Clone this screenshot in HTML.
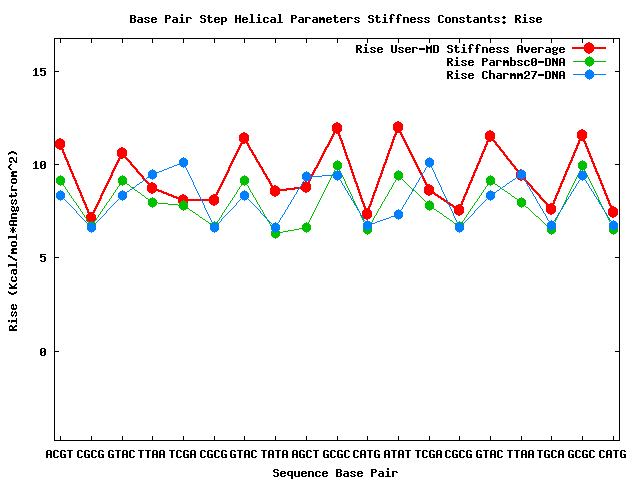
<!DOCTYPE html>
<html lang="en">
<head>
<meta charset="utf-8">
<title>Base Pair Step Helical Parameters Stiffness Constants: Rise</title>
<style>
html,body{margin:0;padding:0;background:#fff;font-family:"Liberation Mono",monospace}
svg{display:block}
</style>
</head>
<body>
<svg width="640" height="480" viewBox="0 0 640 480" shape-rendering="crispEdges" role="img">
<desc>gnuplot line chart: Rise stiffness (Kcal/mol*Angstrom^2) per sequence base pair for User-MD average, Parmbsc0-DNA and Charmm27-DNA</desc>
<defs>
<path id="g28" d="M3 2h2v1h-2zM2 3h2v2h-2zM1 5h2v3h-2zM2 8h2v2h-2zM3 10h2v1h-2z"/>
<path id="g29" d="M1 2h2v1h-2zM2 3h2v2h-2zM3 5h2v3h-2zM2 8h2v2h-2zM1 10h2v1h-2z"/>
<path id="g2a" d="M1 4h1v1h-1zM4 4h1v1h-1zM2 5h2v1h-2zM0 6h6v2h-6zM2 8h2v1h-2zM1 9h1v1h-1zM4 9h1v1h-1z"/>
<path id="g2d" d="M0 6h6v2h-6z"/>
<path id="g2f" d="M4 2h2v2h-2zM3 4h2v2h-2zM2 6h2v1h-2zM1 7h2v2h-2zM0 9h2v2h-2z"/>
<path id="g30" d="M1 3h4v1h-4zM0 4h2v3h-2zM4 4h2v2h-2zM3 6h3v1h-3zM0 7h3v1h-3zM4 7h2v3h-2zM0 8h2v2h-2zM1 10h4v1h-4z"/>
<path id="g31" d="M2 3h2v1h-2zM1 4h3v1h-3zM0 5h1v1h-1zM2 5h2v5h-2zM0 10h6v1h-6z"/>
<path id="g32" d="M1 3h4v1h-4zM0 4h2v2h-2zM4 4h2v3h-2zM2 7h3v1h-3zM1 8h2v1h-2zM0 9h2v1h-2zM0 10h6v1h-6z"/>
<path id="g35" d="M0 3h6v1h-6zM0 4h2v1h-2zM0 5h5v1h-5zM0 6h2v1h-2zM4 6h2v4h-2zM0 9h2v1h-2zM1 10h4v1h-4z"/>
<path id="g37" d="M0 3h6v1h-6zM4 4h2v1h-2zM3 5h2v2h-2zM2 7h2v2h-2zM1 9h2v2h-2z"/>
<path id="g3a" d="M2 4h2v1h-2zM1 5h4v1h-4zM2 6h2v1h-2zM2 9h2v1h-2zM1 10h4v1h-4zM2 11h2v1h-2z"/>
<path id="g41" d="M1 3h4v1h-4zM0 4h2v3h-2zM4 4h2v3h-2zM0 7h6v1h-6zM0 8h2v3h-2zM4 8h2v3h-2z"/>
<path id="g42" d="M0 3h5v1h-5zM0 4h2v2h-2zM4 4h2v2h-2zM0 6h5v1h-5zM0 7h2v3h-2zM4 7h2v3h-2zM0 10h5v1h-5z"/>
<path id="g43" d="M1 3h4v1h-4zM0 4h2v6h-2zM4 4h2v1h-2zM4 9h2v1h-2zM1 10h4v1h-4z"/>
<path id="g44" d="M0 3h5v1h-5zM0 4h2v6h-2zM4 4h2v6h-2zM0 10h5v1h-5z"/>
<path id="g47" d="M1 3h4v1h-4zM0 4h2v6h-2zM4 4h2v1h-2zM3 7h3v1h-3zM4 8h2v2h-2zM1 10h5v1h-5z"/>
<path id="g48" d="M0 3h2v3h-2zM4 3h2v3h-2zM0 6h6v1h-6zM0 7h2v4h-2zM4 7h2v4h-2z"/>
<path id="g4b" d="M0 3h2v2h-2zM4 3h2v1h-2zM3 4h2v1h-2zM0 5h4v1h-4zM0 6h3v2h-3zM0 8h4v1h-4zM0 9h2v2h-2zM3 9h2v1h-2zM4 10h2v1h-2z"/>
<path id="g4d" d="M0 3h1v1h-1zM5 3h1v1h-1zM0 4h2v1h-2zM4 4h2v1h-2zM0 5h6v2h-6zM0 7h2v4h-2zM4 7h2v4h-2z"/>
<path id="g4e" d="M0 3h2v1h-2zM4 3h2v3h-2zM0 4h3v2h-3zM0 6h6v1h-6zM0 7h2v4h-2zM3 7h3v2h-3zM4 9h2v2h-2z"/>
<path id="g50" d="M0 3h5v1h-5zM0 4h2v2h-2zM4 4h2v2h-2zM0 6h5v1h-5zM0 7h2v4h-2z"/>
<path id="g52" d="M0 3h5v1h-5zM0 4h2v2h-2zM4 4h2v2h-2zM0 6h5v1h-5zM0 7h4v1h-4zM0 8h2v3h-2zM3 8h2v1h-2zM4 9h2v2h-2z"/>
<path id="g53" d="M1 3h4v1h-4zM0 4h2v2h-2zM4 4h2v1h-2zM1 6h4v1h-4zM4 7h2v3h-2zM0 9h2v1h-2zM1 10h4v1h-4z"/>
<path id="g54" d="M0 3h6v1h-6zM2 4h2v7h-2z"/>
<path id="g55" d="M0 3h2v7h-2zM4 3h2v7h-2zM1 10h4v1h-4z"/>
<path id="g5e" d="M2 2h2v1h-2zM1 3h4v1h-4zM0 4h2v1h-2zM4 4h2v1h-2zM0 5h1v1h-1zM5 5h1v1h-1z"/>
<path id="g61" d="M1 5h4v1h-4zM4 6h2v1h-2zM1 7h5v1h-5zM0 8h2v2h-2zM4 8h2v2h-2zM1 10h5v1h-5z"/>
<path id="g62" d="M0 2h2v3h-2zM0 5h5v1h-5zM0 6h2v4h-2zM4 6h2v4h-2zM0 10h5v1h-5z"/>
<path id="g63" d="M1 5h4v1h-4zM0 6h2v4h-2zM4 6h2v1h-2zM4 9h2v1h-2zM1 10h4v1h-4z"/>
<path id="g65" d="M1 5h4v1h-4zM0 6h2v1h-2zM4 6h2v1h-2zM0 7h6v1h-6zM0 8h2v2h-2zM4 9h2v1h-2zM1 10h4v1h-4z"/>
<path id="g66" d="M2 2h3v1h-3zM1 3h2v3h-2zM4 3h2v1h-2zM0 6h4v1h-4zM1 7h2v4h-2z"/>
<path id="g67" d="M1 5h3v1h-3zM5 5h1v1h-1zM0 6h2v2h-2zM4 6h2v2h-2zM1 8h4v1h-4zM0 9h2v1h-2zM1 10h4v1h-4zM0 11h2v1h-2zM4 11h2v1h-2zM1 12h4v1h-4z"/>
<path id="g68" d="M0 2h2v3h-2zM0 5h5v1h-5zM0 6h2v5h-2zM4 6h2v5h-2z"/>
<path id="g69" d="M2 2h2v2h-2zM1 5h3v1h-3zM2 6h2v4h-2zM0 10h6v1h-6z"/>
<path id="g6c" d="M1 2h3v1h-3zM2 3h2v7h-2zM0 10h6v1h-6z"/>
<path id="g6d" d="M0 5h2v1h-2zM3 5h2v1h-2zM0 6h6v2h-6zM0 8h2v3h-2zM4 8h2v3h-2z"/>
<path id="g6e" d="M0 5h5v1h-5zM0 6h2v5h-2zM4 6h2v5h-2z"/>
<path id="g6f" d="M1 5h4v1h-4zM0 6h2v4h-2zM4 6h2v4h-2zM1 10h4v1h-4z"/>
<path id="g70" d="M0 5h5v1h-5zM0 6h2v3h-2zM4 6h2v3h-2zM0 9h5v1h-5zM0 10h2v3h-2z"/>
<path id="g71" d="M1 5h5v1h-5zM0 6h2v3h-2zM4 6h2v3h-2zM1 9h5v1h-5zM4 10h2v3h-2z"/>
<path id="g72" d="M0 5h5v1h-5zM0 6h2v5h-2zM4 6h2v1h-2z"/>
<path id="g73" d="M1 5h4v1h-4zM0 6h2v1h-2zM4 6h2v1h-2zM1 7h2v1h-2zM3 8h2v1h-2zM0 9h2v1h-2zM4 9h2v1h-2zM1 10h4v1h-4z"/>
<path id="g74" d="M1 3h2v2h-2zM0 5h5v1h-5zM1 6h2v4h-2zM4 9h2v1h-2zM2 10h3v1h-3z"/>
<path id="g75" d="M0 5h2v5h-2zM4 5h2v5h-2zM1 10h5v1h-5z"/>
<path id="g76" d="M0 5h2v3h-2zM4 5h2v3h-2zM1 8h4v2h-4zM2 10h2v1h-2z"/>
<path id="pt" d="M0 -5h1v1h-1zM-2 -4h5v1h-5zM-3 -3h7v1h-7zM-4 -2h9v5h-9zM-3 3h7v1h-7zM-2 4h5v1h-5zM0 5h1v1h-1z"/>
<path id="ptw" d="M-1 -6h2v1h-2zM-3 -5h6v1h-6zM-4 -4h8v1h-8zM-5 -3h10v6h-10zM-4 3h8v1h-8zM-3 4h6v1h-6zM-1 5h2v1h-2z"/>
</defs>
<rect width="640" height="480" fill="#fff"/>
<g id="axes" fill="#000">
<path id="border" d="M54 38h566v1h-566zM54 440h566v1h-566zM54 38h1v403h-1zM619 38h1v403h-1z"/>
<path id="tics" d="M60 39h1v4h-1zM60 436h1v4h-1zM91 39h1v4h-1zM91 436h1v4h-1zM122 39h1v4h-1zM122 436h1v4h-1zM152 39h1v4h-1zM152 436h1v4h-1zM183 39h1v4h-1zM183 436h1v4h-1zM214 39h1v4h-1zM214 436h1v4h-1zM244 39h1v4h-1zM244 436h1v4h-1zM275 39h1v4h-1zM275 436h1v4h-1zM306 39h1v4h-1zM306 436h1v4h-1zM337 39h1v4h-1zM337 436h1v4h-1zM367 39h1v4h-1zM367 436h1v4h-1zM398 39h1v4h-1zM398 436h1v4h-1zM429 39h1v4h-1zM429 436h1v4h-1zM459 39h1v4h-1zM459 436h1v4h-1zM490 39h1v4h-1zM490 436h1v4h-1zM521 39h1v4h-1zM521 436h1v4h-1zM551 39h1v4h-1zM551 436h1v4h-1zM582 39h1v4h-1zM582 436h1v4h-1zM613 39h1v4h-1zM613 436h1v4h-1zM55 71h4v1h-4zM615 71h4v1h-4zM55 164h4v1h-4zM615 164h4v1h-4zM55 257h4v1h-4zM615 257h4v1h-4zM55 351h4v1h-4zM615 351h4v1h-4z"/>
</g>
<g id="labels" fill="#000">
<g id="title"><g aria-label="Base Pair Step Helical Parameters Stiffness Constants: Rise"><use href="#g42" x="130" y="12"/><use href="#g61" x="137" y="12"/><use href="#g73" x="144" y="12"/><use href="#g65" x="151" y="12"/><use href="#g50" x="165" y="12"/><use href="#g61" x="172" y="12"/><use href="#g69" x="179" y="12"/><use href="#g72" x="186" y="12"/><use href="#g53" x="200" y="12"/><use href="#g74" x="207" y="12"/><use href="#g65" x="214" y="12"/><use href="#g70" x="221" y="12"/><use href="#g48" x="235" y="12"/><use href="#g65" x="242" y="12"/><use href="#g6c" x="249" y="12"/><use href="#g69" x="256" y="12"/><use href="#g63" x="263" y="12"/><use href="#g61" x="270" y="12"/><use href="#g6c" x="277" y="12"/><use href="#g50" x="291" y="12"/><use href="#g61" x="298" y="12"/><use href="#g72" x="305" y="12"/><use href="#g61" x="312" y="12"/><use href="#g6d" x="319" y="12"/><use href="#g65" x="326" y="12"/><use href="#g74" x="333" y="12"/><use href="#g65" x="340" y="12"/><use href="#g72" x="347" y="12"/><use href="#g73" x="354" y="12"/><use href="#g53" x="368" y="12"/><use href="#g74" x="375" y="12"/><use href="#g69" x="382" y="12"/><use href="#g66" x="389" y="12"/><use href="#g66" x="396" y="12"/><use href="#g6e" x="403" y="12"/><use href="#g65" x="410" y="12"/><use href="#g73" x="417" y="12"/><use href="#g73" x="424" y="12"/><use href="#g43" x="438" y="12"/><use href="#g6f" x="445" y="12"/><use href="#g6e" x="452" y="12"/><use href="#g73" x="459" y="12"/><use href="#g74" x="466" y="12"/><use href="#g61" x="473" y="12"/><use href="#g6e" x="480" y="12"/><use href="#g74" x="487" y="12"/><use href="#g73" x="494" y="12"/><use href="#g3a" x="501" y="12"/><use href="#g52" x="515" y="12"/><use href="#g69" x="522" y="12"/><use href="#g73" x="529" y="12"/><use href="#g65" x="536" y="12"/></g></g>
<g id="key"><g aria-label="Rise User-MD Stiffness Average"><use href="#g52" x="356" y="42"/><use href="#g69" x="363" y="42"/><use href="#g73" x="370" y="42"/><use href="#g65" x="377" y="42"/><use href="#g55" x="391" y="42"/><use href="#g73" x="398" y="42"/><use href="#g65" x="405" y="42"/><use href="#g72" x="412" y="42"/><use href="#g2d" x="419" y="42"/><use href="#g4d" x="426" y="42"/><use href="#g44" x="433" y="42"/><use href="#g53" x="447" y="42"/><use href="#g74" x="454" y="42"/><use href="#g69" x="461" y="42"/><use href="#g66" x="468" y="42"/><use href="#g66" x="475" y="42"/><use href="#g6e" x="482" y="42"/><use href="#g65" x="489" y="42"/><use href="#g73" x="496" y="42"/><use href="#g73" x="503" y="42"/><use href="#g41" x="517" y="42"/><use href="#g76" x="524" y="42"/><use href="#g65" x="531" y="42"/><use href="#g72" x="538" y="42"/><use href="#g61" x="545" y="42"/><use href="#g67" x="552" y="42"/><use href="#g65" x="559" y="42"/></g><g aria-label="Rise Parmbsc0-DNA"><use href="#g52" x="447" y="55"/><use href="#g69" x="454" y="55"/><use href="#g73" x="461" y="55"/><use href="#g65" x="468" y="55"/><use href="#g50" x="482" y="55"/><use href="#g61" x="489" y="55"/><use href="#g72" x="496" y="55"/><use href="#g6d" x="503" y="55"/><use href="#g62" x="510" y="55"/><use href="#g73" x="517" y="55"/><use href="#g63" x="524" y="55"/><use href="#g30" x="531" y="55"/><use href="#g2d" x="538" y="55"/><use href="#g44" x="545" y="55"/><use href="#g4e" x="552" y="55"/><use href="#g41" x="559" y="55"/></g><g aria-label="Rise Charmm27-DNA"><use href="#g52" x="447" y="68"/><use href="#g69" x="454" y="68"/><use href="#g73" x="461" y="68"/><use href="#g65" x="468" y="68"/><use href="#g43" x="482" y="68"/><use href="#g68" x="489" y="68"/><use href="#g61" x="496" y="68"/><use href="#g72" x="503" y="68"/><use href="#g6d" x="510" y="68"/><use href="#g6d" x="517" y="68"/><use href="#g32" x="524" y="68"/><use href="#g37" x="531" y="68"/><use href="#g2d" x="538" y="68"/><use href="#g44" x="545" y="68"/><use href="#g4e" x="552" y="68"/><use href="#g41" x="559" y="68"/></g></g>
<g id="ytics"><g aria-label="15"><use href="#g31" x="33" y="65"/><use href="#g35" x="40" y="65"/></g><g aria-label="10"><use href="#g31" x="33" y="158"/><use href="#g30" x="40" y="158"/></g><g aria-label="5"><use href="#g35" x="40" y="251"/></g><g aria-label="0"><use href="#g30" x="40" y="345"/></g></g>
<g id="xtics"><g aria-label="ACGT"><use href="#g41" x="46" y="447"/><use href="#g43" x="53" y="447"/><use href="#g47" x="60" y="447"/><use href="#g54" x="67" y="447"/></g><g aria-label="CGCG"><use href="#g43" x="77" y="447"/><use href="#g47" x="84" y="447"/><use href="#g43" x="91" y="447"/><use href="#g47" x="98" y="447"/></g><g aria-label="GTAC"><use href="#g47" x="108" y="447"/><use href="#g54" x="115" y="447"/><use href="#g41" x="122" y="447"/><use href="#g43" x="129" y="447"/></g><g aria-label="TTAA"><use href="#g54" x="138" y="447"/><use href="#g54" x="145" y="447"/><use href="#g41" x="152" y="447"/><use href="#g41" x="159" y="447"/></g><g aria-label="TCGA"><use href="#g54" x="169" y="447"/><use href="#g43" x="176" y="447"/><use href="#g47" x="183" y="447"/><use href="#g41" x="190" y="447"/></g><g aria-label="CGCG"><use href="#g43" x="200" y="447"/><use href="#g47" x="207" y="447"/><use href="#g43" x="214" y="447"/><use href="#g47" x="221" y="447"/></g><g aria-label="GTAC"><use href="#g47" x="230" y="447"/><use href="#g54" x="237" y="447"/><use href="#g41" x="244" y="447"/><use href="#g43" x="251" y="447"/></g><g aria-label="TATA"><use href="#g54" x="261" y="447"/><use href="#g41" x="268" y="447"/><use href="#g54" x="275" y="447"/><use href="#g41" x="282" y="447"/></g><g aria-label="AGCT"><use href="#g41" x="292" y="447"/><use href="#g47" x="299" y="447"/><use href="#g43" x="306" y="447"/><use href="#g54" x="313" y="447"/></g><g aria-label="GCGC"><use href="#g47" x="323" y="447"/><use href="#g43" x="330" y="447"/><use href="#g47" x="337" y="447"/><use href="#g43" x="344" y="447"/></g><g aria-label="CATG"><use href="#g43" x="353" y="447"/><use href="#g41" x="360" y="447"/><use href="#g54" x="367" y="447"/><use href="#g47" x="374" y="447"/></g><g aria-label="ATAT"><use href="#g41" x="384" y="447"/><use href="#g54" x="391" y="447"/><use href="#g41" x="398" y="447"/><use href="#g54" x="405" y="447"/></g><g aria-label="TCGA"><use href="#g54" x="415" y="447"/><use href="#g43" x="422" y="447"/><use href="#g47" x="429" y="447"/><use href="#g41" x="436" y="447"/></g><g aria-label="CGCG"><use href="#g43" x="445" y="447"/><use href="#g47" x="452" y="447"/><use href="#g43" x="459" y="447"/><use href="#g47" x="466" y="447"/></g><g aria-label="GTAC"><use href="#g47" x="476" y="447"/><use href="#g54" x="483" y="447"/><use href="#g41" x="490" y="447"/><use href="#g43" x="497" y="447"/></g><g aria-label="TTAA"><use href="#g54" x="507" y="447"/><use href="#g54" x="514" y="447"/><use href="#g41" x="521" y="447"/><use href="#g41" x="528" y="447"/></g><g aria-label="TGCA"><use href="#g54" x="537" y="447"/><use href="#g47" x="544" y="447"/><use href="#g43" x="551" y="447"/><use href="#g41" x="558" y="447"/></g><g aria-label="GCGC"><use href="#g47" x="568" y="447"/><use href="#g43" x="575" y="447"/><use href="#g47" x="582" y="447"/><use href="#g43" x="589" y="447"/></g><g aria-label="CATG"><use href="#g43" x="599" y="447"/><use href="#g41" x="606" y="447"/><use href="#g54" x="613" y="447"/><use href="#g47" x="620" y="447"/></g></g>
<g id="xlabel"><g aria-label="Sequence Base Pair"><use href="#g53" x="273" y="466"/><use href="#g65" x="280" y="466"/><use href="#g71" x="287" y="466"/><use href="#g75" x="294" y="466"/><use href="#g65" x="301" y="466"/><use href="#g6e" x="308" y="466"/><use href="#g63" x="315" y="466"/><use href="#g65" x="322" y="466"/><use href="#g42" x="336" y="466"/><use href="#g61" x="343" y="466"/><use href="#g73" x="350" y="466"/><use href="#g65" x="357" y="466"/><use href="#g50" x="371" y="466"/><use href="#g61" x="378" y="466"/><use href="#g69" x="385" y="466"/><use href="#g72" x="392" y="466"/></g></g>
<g id="ylabel"><g aria-label="Rise (Kcal/mol*Angstrom^2)" transform="translate(6,331) rotate(-90)"><use href="#g52" x="0"/><use href="#g69" x="7"/><use href="#g73" x="14"/><use href="#g65" x="21"/><use href="#g28" x="35"/><use href="#g4b" x="42"/><use href="#g63" x="49"/><use href="#g61" x="56"/><use href="#g6c" x="63"/><use href="#g2f" x="70"/><use href="#g6d" x="77"/><use href="#g6f" x="84"/><use href="#g6c" x="91"/><use href="#g2a" x="98"/><use href="#g41" x="105"/><use href="#g6e" x="112"/><use href="#g67" x="119"/><use href="#g73" x="126"/><use href="#g74" x="133"/><use href="#g72" x="140"/><use href="#g6f" x="147"/><use href="#g6d" x="154"/><use href="#g5e" x="161"/><use href="#g32" x="168"/><use href="#g29" x="175"/></g></g>
</g>
<g id="user-md" fill="#ff0000"><path d="M572 47h34v2h-34zM397 126h2v2h-2zM336 127h2v1h-2zM335 128h3v1h-3zM396 128h4v2h-4zM335 129h4v1h-4zM334 130h5v1h-5zM396 130h5v1h-5zM334 131h2v1h-2zM337 131h2v1h-2zM395 131h3v1h-3zM399 131h2v1h-2zM333 132h3v1h-3zM337 132h3v1h-3zM395 132h2v2h-2zM399 132h3v1h-3zM333 133h2v1h-2zM338 133h2v2h-2zM400 133h2v1h-2zM332 134h3v1h-3zM394 134h3v1h-3zM400 134h3v1h-3zM581 134h2v2h-2zM332 135h2v1h-2zM338 135h3v1h-3zM394 135h2v1h-2zM401 135h2v1h-2zM489 135h2v1h-2zM331 136h3v1h-3zM339 136h2v2h-2zM393 136h3v1h-3zM401 136h3v1h-3zM489 136h3v1h-3zM580 136h4v2h-4zM243 137h2v1h-2zM331 137h2v1h-2zM393 137h2v2h-2zM402 137h2v1h-2zM488 137h5v1h-5zM243 138h3v1h-3zM330 138h3v1h-3zM339 138h3v1h-3zM402 138h3v1h-3zM488 138h2v1h-2zM491 138h2v1h-2zM579 138h6v1h-6zM242 139h4v1h-4zM330 139h2v1h-2zM340 139h2v1h-2zM392 139h3v1h-3zM403 139h2v1h-2zM487 139h3v1h-3zM491 139h3v1h-3zM579 139h2v1h-2zM583 139h2v2h-2zM242 140h5v1h-5zM329 140h3v1h-3zM340 140h3v1h-3zM392 140h2v2h-2zM403 140h3v1h-3zM487 140h2v1h-2zM492 140h3v1h-3zM578 140h3v1h-3zM241 141h3v1h-3zM245 141h2v1h-2zM329 141h2v1h-2zM341 141h2v2h-2zM404 141h2v1h-2zM486 141h3v1h-3zM493 141h3v1h-3zM578 141h2v2h-2zM583 141h3v1h-3zM241 142h2v1h-2zM245 142h3v1h-3zM328 142h3v1h-3zM391 142h3v1h-3zM404 142h3v1h-3zM486 142h2v2h-2zM494 142h3v1h-3zM584 142h2v1h-2zM59 143h2v2h-2zM240 143h3v1h-3zM246 143h3v1h-3zM328 143h2v1h-2zM341 143h3v1h-3zM391 143h2v2h-2zM405 143h2v1h-2zM495 143h2v1h-2zM577 143h3v1h-3zM584 143h3v1h-3zM240 144h2v1h-2zM247 144h2v1h-2zM327 144h3v1h-3zM342 144h2v2h-2zM405 144h3v1h-3zM485 144h3v1h-3zM495 144h3v1h-3zM577 144h2v1h-2zM585 144h2v2h-2zM59 145h3v1h-3zM239 145h3v1h-3zM247 145h3v1h-3zM327 145h2v1h-2zM390 145h3v1h-3zM406 145h2v1h-2zM485 145h2v1h-2zM496 145h3v1h-3zM576 145h3v1h-3zM60 146h2v1h-2zM239 146h2v1h-2zM248 146h2v1h-2zM326 146h3v1h-3zM342 146h3v1h-3zM390 146h2v2h-2zM406 146h3v1h-3zM484 146h3v1h-3zM497 146h3v1h-3zM576 146h2v2h-2zM585 146h3v1h-3zM60 147h3v1h-3zM238 147h3v1h-3zM248 147h3v1h-3zM325 147h3v1h-3zM343 147h2v2h-2zM407 147h2v1h-2zM484 147h2v2h-2zM498 147h3v1h-3zM586 147h2v1h-2zM61 148h2v1h-2zM238 148h2v1h-2zM249 148h2v1h-2zM325 148h2v1h-2zM389 148h3v1h-3zM407 148h3v1h-3zM499 148h2v1h-2zM575 148h3v1h-3zM586 148h3v1h-3zM61 149h3v1h-3zM237 149h3v1h-3zM249 149h3v1h-3zM324 149h3v1h-3zM343 149h3v1h-3zM389 149h2v1h-2zM408 149h2v1h-2zM483 149h3v1h-3zM499 149h3v1h-3zM575 149h2v1h-2zM587 149h2v2h-2zM62 150h2v2h-2zM237 150h2v1h-2zM250 150h3v1h-3zM324 150h2v1h-2zM344 150h2v2h-2zM388 150h3v1h-3zM408 150h3v1h-3zM483 150h2v1h-2zM500 150h3v1h-3zM574 150h3v1h-3zM236 151h3v1h-3zM251 151h2v1h-2zM323 151h3v1h-3zM388 151h2v2h-2zM409 151h2v1h-2zM482 151h3v1h-3zM501 151h3v1h-3zM574 151h2v1h-2zM587 151h3v1h-3zM62 152h3v1h-3zM121 152h2v1h-2zM236 152h2v1h-2zM251 152h3v1h-3zM323 152h2v1h-2zM344 152h3v1h-3zM409 152h3v1h-3zM482 152h2v1h-2zM502 152h3v1h-3zM573 152h3v1h-3zM588 152h2v1h-2zM63 153h2v1h-2zM121 153h3v1h-3zM235 153h3v1h-3zM252 153h2v1h-2zM322 153h3v1h-3zM345 153h2v2h-2zM387 153h3v1h-3zM410 153h2v1h-2zM481 153h3v1h-3zM503 153h2v1h-2zM573 153h2v2h-2zM588 153h3v1h-3zM63 154h3v1h-3zM120 154h5v1h-5zM235 154h2v1h-2zM252 154h3v1h-3zM322 154h2v1h-2zM387 154h2v2h-2zM410 154h3v1h-3zM481 154h2v2h-2zM503 154h3v1h-3zM589 154h2v2h-2zM64 155h2v2h-2zM120 155h2v1h-2zM123 155h3v1h-3zM234 155h3v1h-3zM253 155h3v1h-3zM321 155h3v1h-3zM345 155h3v1h-3zM411 155h2v1h-2zM504 155h3v1h-3zM572 155h3v1h-3zM119 156h3v1h-3zM124 156h2v1h-2zM234 156h2v1h-2zM254 156h2v1h-2zM321 156h2v1h-2zM346 156h2v2h-2zM386 156h3v1h-3zM411 156h3v1h-3zM480 156h3v1h-3zM505 156h3v1h-3zM572 156h2v1h-2zM589 156h3v1h-3zM64 157h3v1h-3zM119 157h2v1h-2zM124 157h3v1h-3zM233 157h3v1h-3zM254 157h3v1h-3zM320 157h3v1h-3zM386 157h2v2h-2zM412 157h2v1h-2zM480 157h2v1h-2zM506 157h2v1h-2zM571 157h3v1h-3zM590 157h2v1h-2zM65 158h2v1h-2zM118 158h3v1h-3zM125 158h3v1h-3zM233 158h2v1h-2zM255 158h2v1h-2zM320 158h2v1h-2zM346 158h3v1h-3zM412 158h3v1h-3zM479 158h3v1h-3zM506 158h3v1h-3zM571 158h2v2h-2zM590 158h3v1h-3zM65 159h3v1h-3zM118 159h2v1h-2zM126 159h3v1h-3zM232 159h3v1h-3zM255 159h3v1h-3zM319 159h3v1h-3zM347 159h2v1h-2zM385 159h3v1h-3zM413 159h2v1h-2zM479 159h2v2h-2zM507 159h3v1h-3zM591 159h2v2h-2zM66 160h2v1h-2zM117 160h3v1h-3zM127 160h3v1h-3zM232 160h2v1h-2zM256 160h2v1h-2zM319 160h2v1h-2zM347 160h3v1h-3zM385 160h2v2h-2zM413 160h3v1h-3zM508 160h3v1h-3zM570 160h3v1h-3zM66 161h3v1h-3zM117 161h2v1h-2zM128 161h3v1h-3zM231 161h3v1h-3zM256 161h3v1h-3zM318 161h3v1h-3zM348 161h2v2h-2zM414 161h2v1h-2zM478 161h3v1h-3zM509 161h3v1h-3zM570 161h2v1h-2zM591 161h3v1h-3zM67 162h2v2h-2zM116 162h3v1h-3zM129 162h3v1h-3zM231 162h2v1h-2zM257 162h3v1h-3zM318 162h2v1h-2zM384 162h3v1h-3zM414 162h3v1h-3zM478 162h2v1h-2zM510 162h2v1h-2zM569 162h3v1h-3zM592 162h2v1h-2zM116 163h2v1h-2zM130 163h2v1h-2zM230 163h3v1h-3zM258 163h2v1h-2zM317 163h3v1h-3zM348 163h3v1h-3zM384 163h2v1h-2zM415 163h2v1h-2zM477 163h3v1h-3zM510 163h3v1h-3zM569 163h2v1h-2zM592 163h3v1h-3zM67 164h3v1h-3zM115 164h3v1h-3zM130 164h3v1h-3zM230 164h2v1h-2zM258 164h3v1h-3zM317 164h2v1h-2zM349 164h2v2h-2zM383 164h3v1h-3zM415 164h3v1h-3zM477 164h2v1h-2zM511 164h3v1h-3zM568 164h3v1h-3zM593 164h2v2h-2zM68 165h2v1h-2zM115 165h2v1h-2zM131 165h3v1h-3zM229 165h3v1h-3zM259 165h2v1h-2zM316 165h3v1h-3zM383 165h2v2h-2zM416 165h2v1h-2zM476 165h3v1h-3zM512 165h3v1h-3zM568 165h2v2h-2zM68 166h3v1h-3zM114 166h3v1h-3zM132 166h3v1h-3zM229 166h2v1h-2zM259 166h3v1h-3zM316 166h2v1h-2zM349 166h3v1h-3zM416 166h3v1h-3zM476 166h2v2h-2zM513 166h3v1h-3zM593 166h3v1h-3zM69 167h2v2h-2zM114 167h2v1h-2zM133 167h3v1h-3zM228 167h3v1h-3zM260 167h3v1h-3zM315 167h3v1h-3zM350 167h2v2h-2zM382 167h3v1h-3zM417 167h2v1h-2zM514 167h2v1h-2zM567 167h3v1h-3zM594 167h2v1h-2zM113 168h3v1h-3zM134 168h3v1h-3zM228 168h2v2h-2zM261 168h2v1h-2zM314 168h3v1h-3zM382 168h2v2h-2zM417 168h3v1h-3zM475 168h3v1h-3zM514 168h3v1h-3zM567 168h2v1h-2zM594 168h3v1h-3zM69 169h3v1h-3zM113 169h2v1h-2zM135 169h3v1h-3zM261 169h3v1h-3zM314 169h2v1h-2zM350 169h3v1h-3zM418 169h2v1h-2zM475 169h2v1h-2zM515 169h3v1h-3zM566 169h3v1h-3zM595 169h2v2h-2zM70 170h2v1h-2zM112 170h3v1h-3zM136 170h2v1h-2zM227 170h3v1h-3zM262 170h2v1h-2zM313 170h3v1h-3zM351 170h2v2h-2zM381 170h3v1h-3zM418 170h3v1h-3zM474 170h3v1h-3zM516 170h3v1h-3zM566 170h2v1h-2zM70 171h3v1h-3zM112 171h2v1h-2zM136 171h3v1h-3zM227 171h2v1h-2zM262 171h3v1h-3zM313 171h2v1h-2zM381 171h2v2h-2zM419 171h2v1h-2zM474 171h2v1h-2zM517 171h3v1h-3zM565 171h3v1h-3zM595 171h3v1h-3zM71 172h2v1h-2zM111 172h3v1h-3zM137 172h3v1h-3zM226 172h3v1h-3zM263 172h2v1h-2zM312 172h3v1h-3zM351 172h3v1h-3zM419 172h3v1h-3zM473 172h3v1h-3zM518 172h2v1h-2zM565 172h2v2h-2zM596 172h2v1h-2zM71 173h3v1h-3zM111 173h2v2h-2zM138 173h3v1h-3zM226 173h2v1h-2zM263 173h3v1h-3zM312 173h2v1h-2zM352 173h2v2h-2zM380 173h3v1h-3zM420 173h2v1h-2zM473 173h2v2h-2zM518 173h3v1h-3zM596 173h3v1h-3zM72 174h2v2h-2zM139 174h3v1h-3zM225 174h3v1h-3zM264 174h3v1h-3zM311 174h3v1h-3zM380 174h2v2h-2zM420 174h3v1h-3zM519 174h3v1h-3zM564 174h3v1h-3zM597 174h2v1h-2zM110 175h3v1h-3zM140 175h3v1h-3zM225 175h2v1h-2zM265 175h2v1h-2zM311 175h2v1h-2zM352 175h3v1h-3zM421 175h2v1h-2zM472 175h3v1h-3zM520 175h3v1h-3zM564 175h2v1h-2zM597 175h3v1h-3zM72 176h3v1h-3zM110 176h2v1h-2zM141 176h3v1h-3zM224 176h3v1h-3zM265 176h3v1h-3zM310 176h3v1h-3zM353 176h2v2h-2zM379 176h3v1h-3zM421 176h3v1h-3zM472 176h2v1h-2zM521 176h3v1h-3zM563 176h3v1h-3zM598 176h2v2h-2zM73 177h2v1h-2zM109 177h3v1h-3zM142 177h2v1h-2zM224 177h2v1h-2zM266 177h2v1h-2zM310 177h2v1h-2zM379 177h2v1h-2zM422 177h2v1h-2zM471 177h3v1h-3zM522 177h3v1h-3zM563 177h2v2h-2zM73 178h3v1h-3zM109 178h2v1h-2zM142 178h3v1h-3zM223 178h3v1h-3zM266 178h3v1h-3zM309 178h3v1h-3zM353 178h3v1h-3zM378 178h3v1h-3zM422 178h3v1h-3zM471 178h2v2h-2zM523 178h3v1h-3zM598 178h3v1h-3zM74 179h2v1h-2zM108 179h3v1h-3zM143 179h3v1h-3zM223 179h2v1h-2zM267 179h3v1h-3zM309 179h2v1h-2zM354 179h2v2h-2zM378 179h2v2h-2zM423 179h2v1h-2zM524 179h2v1h-2zM562 179h3v1h-3zM599 179h2v1h-2zM74 180h3v1h-3zM108 180h2v1h-2zM144 180h3v1h-3zM222 180h3v1h-3zM268 180h2v1h-2zM308 180h3v1h-3zM423 180h3v1h-3zM470 180h3v1h-3zM524 180h3v1h-3zM562 180h2v1h-2zM599 180h3v1h-3zM75 181h2v2h-2zM107 181h3v1h-3zM145 181h3v1h-3zM222 181h2v1h-2zM268 181h3v1h-3zM308 181h2v1h-2zM354 181h3v1h-3zM377 181h3v1h-3zM424 181h2v1h-2zM470 181h2v1h-2zM525 181h3v1h-3zM561 181h3v1h-3zM600 181h2v2h-2zM107 182h2v1h-2zM146 182h3v1h-3zM221 182h3v1h-3zM269 182h2v1h-2zM307 182h3v1h-3zM355 182h2v1h-2zM377 182h2v2h-2zM424 182h3v1h-3zM469 182h3v1h-3zM526 182h3v1h-3zM561 182h2v1h-2zM75 183h3v1h-3zM106 183h3v1h-3zM147 183h3v1h-3zM221 183h2v1h-2zM269 183h3v1h-3zM307 183h2v1h-2zM355 183h3v1h-3zM425 183h2v1h-2zM469 183h2v1h-2zM527 183h3v1h-3zM560 183h3v1h-3zM600 183h3v1h-3zM76 184h2v1h-2zM106 184h2v1h-2zM148 184h2v1h-2zM220 184h3v1h-3zM270 184h2v1h-2zM306 184h3v1h-3zM356 184h2v2h-2zM376 184h3v1h-3zM425 184h3v1h-3zM468 184h3v1h-3zM528 184h3v1h-3zM560 184h2v2h-2zM601 184h2v1h-2zM76 185h3v1h-3zM105 185h3v1h-3zM148 185h3v1h-3zM220 185h2v1h-2zM270 185h3v1h-3zM306 185h2v1h-2zM376 185h2v2h-2zM426 185h2v1h-2zM468 185h2v2h-2zM529 185h3v1h-3zM601 185h3v1h-3zM77 186h2v2h-2zM105 186h2v1h-2zM149 186h3v1h-3zM219 186h3v1h-3zM271 186h3v1h-3zM302 186h6v1h-6zM356 186h3v1h-3zM426 186h3v1h-3zM530 186h3v1h-3zM559 186h3v1h-3zM602 186h2v2h-2zM104 187h3v1h-3zM150 187h4v1h-4zM219 187h2v1h-2zM272 187h2v1h-2zM294 187h13v1h-13zM357 187h2v2h-2zM375 187h3v1h-3zM427 187h2v1h-2zM467 187h3v1h-3zM531 187h2v1h-2zM559 187h2v1h-2zM77 188h3v1h-3zM104 188h2v1h-2zM151 188h5v1h-5zM218 188h3v1h-3zM272 188h3v1h-3zM286 188h17v1h-17zM375 188h2v2h-2zM427 188h3v1h-3zM467 188h2v1h-2zM531 188h3v1h-3zM558 188h3v1h-3zM602 188h3v1h-3zM78 189h2v1h-2zM103 189h3v1h-3zM153 189h6v1h-6zM218 189h2v1h-2zM273 189h2v1h-2zM278 189h17v1h-17zM357 189h3v1h-3zM428 189h2v1h-2zM466 189h3v1h-3zM532 189h3v1h-3zM558 189h2v2h-2zM603 189h2v1h-2zM78 190h3v1h-3zM103 190h2v1h-2zM155 190h7v1h-7zM217 190h3v1h-3zM273 190h14v1h-14zM358 190h2v2h-2zM374 190h3v1h-3zM428 190h4v1h-4zM466 190h2v2h-2zM533 190h3v1h-3zM603 190h3v1h-3zM79 191h2v1h-2zM102 191h3v1h-3zM158 191h6v1h-6zM217 191h2v1h-2zM274 191h5v1h-5zM374 191h2v1h-2zM429 191h4v1h-4zM534 191h3v1h-3zM557 191h3v1h-3zM604 191h2v2h-2zM79 192h3v1h-3zM102 192h2v1h-2zM161 192h6v1h-6zM216 192h3v1h-3zM358 192h3v1h-3zM373 192h3v1h-3zM431 192h4v1h-4zM465 192h3v1h-3zM535 192h3v1h-3zM557 192h2v1h-2zM80 193h2v2h-2zM101 193h3v1h-3zM163 193h6v1h-6zM216 193h2v1h-2zM359 193h2v2h-2zM373 193h2v2h-2zM432 193h4v1h-4zM465 193h2v1h-2zM536 193h3v1h-3zM556 193h3v1h-3zM604 193h3v1h-3zM101 194h2v1h-2zM166 194h6v1h-6zM215 194h3v1h-3zM434 194h4v1h-4zM464 194h3v1h-3zM537 194h3v1h-3zM556 194h2v1h-2zM605 194h2v1h-2zM80 195h3v1h-3zM100 195h3v1h-3zM168 195h6v1h-6zM215 195h2v1h-2zM359 195h3v1h-3zM372 195h3v1h-3zM435 195h4v1h-4zM464 195h2v1h-2zM538 195h3v1h-3zM555 195h3v1h-3zM605 195h3v1h-3zM81 196h2v1h-2zM100 196h2v2h-2zM171 196h6v1h-6zM214 196h3v1h-3zM360 196h2v2h-2zM372 196h2v2h-2zM437 196h4v1h-4zM463 196h3v1h-3zM539 196h2v1h-2zM555 196h2v2h-2zM606 196h2v2h-2zM81 197h3v1h-3zM173 197h7v1h-7zM214 197h2v1h-2zM438 197h4v1h-4zM463 197h2v2h-2zM539 197h3v1h-3zM82 198h2v2h-2zM99 198h3v1h-3zM176 198h6v1h-6zM213 198h3v1h-3zM360 198h3v1h-3zM371 198h3v1h-3zM440 198h4v1h-4zM540 198h3v1h-3zM554 198h3v1h-3zM606 198h3v1h-3zM99 199h2v1h-2zM179 199h36v1h-36zM361 199h2v2h-2zM371 199h2v2h-2zM441 199h4v1h-4zM462 199h3v1h-3zM541 199h3v1h-3zM554 199h2v1h-2zM607 199h2v1h-2zM82 200h3v1h-3zM98 200h3v1h-3zM181 200h34v1h-34zM443 200h4v1h-4zM462 200h2v1h-2zM542 200h3v1h-3zM553 200h3v1h-3zM607 200h3v1h-3zM83 201h2v1h-2zM98 201h2v1h-2zM361 201h3v1h-3zM370 201h3v1h-3zM444 201h4v1h-4zM461 201h3v1h-3zM543 201h3v1h-3zM553 201h2v2h-2zM608 201h2v2h-2zM83 202h3v1h-3zM97 202h3v1h-3zM362 202h2v1h-2zM370 202h2v2h-2zM446 202h4v1h-4zM461 202h2v2h-2zM544 202h3v1h-3zM84 203h2v1h-2zM97 203h2v1h-2zM362 203h3v1h-3zM447 203h4v1h-4zM545 203h3v1h-3zM552 203h3v1h-3zM608 203h3v1h-3zM84 204h3v1h-3zM96 204h3v1h-3zM363 204h2v2h-2zM369 204h3v1h-3zM449 204h4v1h-4zM460 204h3v1h-3zM546 204h2v1h-2zM552 204h2v1h-2zM609 204h2v1h-2zM85 205h2v2h-2zM96 205h2v1h-2zM369 205h2v1h-2zM450 205h4v1h-4zM460 205h2v1h-2zM546 205h3v1h-3zM551 205h3v1h-3zM609 205h3v1h-3zM95 206h3v1h-3zM363 206h3v1h-3zM368 206h3v1h-3zM452 206h4v1h-4zM459 206h3v1h-3zM547 206h3v1h-3zM551 206h2v1h-2zM610 206h2v2h-2zM85 207h3v1h-3zM95 207h2v1h-2zM364 207h2v2h-2zM368 207h2v2h-2zM453 207h4v1h-4zM459 207h2v1h-2zM548 207h5v1h-5zM86 208h2v1h-2zM94 208h3v1h-3zM455 208h6v1h-6zM549 208h3v1h-3zM610 208h3v1h-3zM86 209h3v1h-3zM94 209h2v1h-2zM364 209h6v1h-6zM456 209h4v1h-4zM550 209h2v1h-2zM611 209h2v1h-2zM87 210h2v2h-2zM93 210h3v1h-3zM365 210h4v3h-4zM458 210h2v1h-2zM611 210h3v1h-3zM93 211h2v1h-2zM612 211h2v2h-2zM87 212h3v1h-3zM92 212h3v1h-3zM88 213h2v1h-2zM92 213h2v1h-2zM366 213h2v2h-2zM88 214h6v1h-6zM89 215h4v2h-4zM90 217h2v2h-2z"/><use href="#ptw" x="60" y="144"/><use href="#ptw" x="91" y="218"/><use href="#ptw" x="122" y="153"/><use href="#ptw" x="152" y="188"/><use href="#ptw" x="183" y="200"/><use href="#ptw" x="214" y="200"/><use href="#ptw" x="244" y="138"/><use href="#ptw" x="275" y="191"/><use href="#ptw" x="306" y="187"/><use href="#ptw" x="337" y="128"/><use href="#ptw" x="367" y="214"/><use href="#ptw" x="398" y="127"/><use href="#ptw" x="429" y="190"/><use href="#ptw" x="459" y="210"/><use href="#ptw" x="490" y="136"/><use href="#ptw" x="521" y="175"/><use href="#ptw" x="551" y="209"/><use href="#ptw" x="582" y="135"/><use href="#ptw" x="613" y="212"/><use href="#ptw" x="589" y="48"/></g>
<g id="parmbsc0" fill="#00c000"><path d="M573 61h33v1h-33zM337 165h1v1h-1zM582 165h1v2h-1zM336 166h2v1h-2zM336 167h1v1h-1zM338 167h1v2h-1zM581 167h1v2h-1zM583 167h1v2h-1zM335 168h1v2h-1zM339 169h1v2h-1zM580 169h1v2h-1zM584 169h1v2h-1zM334 170h1v2h-1zM340 171h1v2h-1zM579 171h1v2h-1zM585 171h1v2h-1zM333 172h1v2h-1zM341 173h1v2h-1zM578 173h1v2h-1zM586 173h1v2h-1zM332 174h1v2h-1zM342 175h1v2h-1zM398 175h1v1h-1zM577 175h1v2h-1zM587 175h1v2h-1zM331 176h1v2h-1zM397 176h1v2h-1zM399 176h1v1h-1zM343 177h1v2h-1zM400 177h1v1h-1zM576 177h1v2h-1zM588 177h1v2h-1zM330 178h1v2h-1zM396 178h1v2h-1zM401 178h1v1h-1zM344 179h1v2h-1zM402 179h1v1h-1zM575 179h1v2h-1zM589 179h1v2h-1zM60 180h1v1h-1zM122 180h1v1h-1zM244 180h1v1h-1zM329 180h1v2h-1zM395 180h1v2h-1zM403 180h1v1h-1zM490 180h1v1h-1zM61 181h1v2h-1zM121 181h1v2h-1zM123 181h2v1h-2zM243 181h1v2h-1zM245 181h1v2h-1zM345 181h1v3h-1zM404 181h1v1h-1zM489 181h1v2h-1zM491 181h2v1h-2zM574 181h1v2h-1zM590 181h1v2h-1zM125 182h1v1h-1zM328 182h1v2h-1zM394 182h1v1h-1zM405 182h1v1h-1zM493 182h1v1h-1zM62 183h1v1h-1zM120 183h1v1h-1zM126 183h1v1h-1zM242 183h1v1h-1zM246 183h1v2h-1zM393 183h1v2h-1zM406 183h1v1h-1zM488 183h1v1h-1zM494 183h1v1h-1zM573 183h1v2h-1zM591 183h1v2h-1zM63 184h1v2h-1zM119 184h1v2h-1zM127 184h2v1h-2zM241 184h1v2h-1zM327 184h1v2h-1zM346 184h1v2h-1zM407 184h1v1h-1zM487 184h1v2h-1zM495 184h2v1h-2zM129 185h1v1h-1zM247 185h1v1h-1zM392 185h1v2h-1zM408 185h1v1h-1zM497 185h1v1h-1zM572 185h1v2h-1zM592 185h1v2h-1zM64 186h1v1h-1zM118 186h1v1h-1zM130 186h1v1h-1zM240 186h1v1h-1zM248 186h1v2h-1zM326 186h1v2h-1zM347 186h1v2h-1zM409 186h1v1h-1zM486 186h1v1h-1zM498 186h2v1h-2zM65 187h1v2h-1zM117 187h1v2h-1zM131 187h2v1h-2zM239 187h1v2h-1zM391 187h1v2h-1zM410 187h1v1h-1zM485 187h1v2h-1zM500 187h1v1h-1zM571 187h1v2h-1zM593 187h1v2h-1zM133 188h1v1h-1zM249 188h1v2h-1zM325 188h1v2h-1zM348 188h1v2h-1zM411 188h1v1h-1zM501 188h1v1h-1zM66 189h1v1h-1zM116 189h1v1h-1zM134 189h1v1h-1zM238 189h1v1h-1zM390 189h1v1h-1zM412 189h1v1h-1zM484 189h1v1h-1zM502 189h2v1h-2zM570 189h1v2h-1zM594 189h1v2h-1zM67 190h1v2h-1zM115 190h1v2h-1zM135 190h2v1h-2zM237 190h1v2h-1zM250 190h1v2h-1zM324 190h1v2h-1zM349 190h1v2h-1zM389 190h1v2h-1zM413 190h2v1h-2zM483 190h1v2h-1zM504 190h1v1h-1zM137 191h1v1h-1zM415 191h1v1h-1zM505 191h2v1h-2zM569 191h1v2h-1zM595 191h1v2h-1zM68 192h1v1h-1zM114 192h1v1h-1zM138 192h2v1h-2zM236 192h1v2h-1zM251 192h1v1h-1zM323 192h1v2h-1zM350 192h1v2h-1zM388 192h1v2h-1zM416 192h1v1h-1zM482 192h1v1h-1zM507 192h1v1h-1zM69 193h1v2h-1zM113 193h1v2h-1zM140 193h1v1h-1zM252 193h1v2h-1zM417 193h1v1h-1zM481 193h1v2h-1zM508 193h2v1h-2zM568 193h1v2h-1zM596 193h1v2h-1zM141 194h1v1h-1zM235 194h1v1h-1zM322 194h1v2h-1zM351 194h1v2h-1zM387 194h1v2h-1zM418 194h1v1h-1zM510 194h1v1h-1zM70 195h1v1h-1zM112 195h1v1h-1zM142 195h2v1h-2zM234 195h1v2h-1zM253 195h1v2h-1zM419 195h1v1h-1zM480 195h1v1h-1zM511 195h1v1h-1zM567 195h1v2h-1zM597 195h1v2h-1zM71 196h1v2h-1zM111 196h1v2h-1zM144 196h1v1h-1zM321 196h1v2h-1zM352 196h1v3h-1zM386 196h1v1h-1zM420 196h1v1h-1zM479 196h1v2h-1zM512 196h2v1h-2zM145 197h1v1h-1zM233 197h1v1h-1zM254 197h1v1h-1zM385 197h1v2h-1zM421 197h1v1h-1zM514 197h1v1h-1zM566 197h1v3h-1zM598 197h1v3h-1zM72 198h1v1h-1zM110 198h1v1h-1zM146 198h2v1h-2zM232 198h1v2h-1zM255 198h1v2h-1zM320 198h1v2h-1zM422 198h1v1h-1zM478 198h1v1h-1zM515 198h2v1h-2zM73 199h1v2h-1zM109 199h1v2h-1zM148 199h1v1h-1zM353 199h1v2h-1zM384 199h1v2h-1zM423 199h1v1h-1zM477 199h1v2h-1zM517 199h1v1h-1zM149 200h1v1h-1zM231 200h1v1h-1zM256 200h1v2h-1zM319 200h1v2h-1zM424 200h1v1h-1zM518 200h1v1h-1zM565 200h1v2h-1zM599 200h1v2h-1zM74 201h1v1h-1zM108 201h1v1h-1zM150 201h2v1h-2zM230 201h1v2h-1zM354 201h1v2h-1zM383 201h1v1h-1zM425 201h1v1h-1zM476 201h1v1h-1zM519 201h2v1h-2zM75 202h1v1h-1zM107 202h1v1h-1zM152 202h6v1h-6zM257 202h1v2h-1zM318 202h1v2h-1zM382 202h1v2h-1zM426 202h1v1h-1zM475 202h1v1h-1zM521 202h1v1h-1zM564 202h1v2h-1zM600 202h1v2h-1zM76 203h1v2h-1zM106 203h1v2h-1zM158 203h10v1h-10zM229 203h1v1h-1zM355 203h1v2h-1zM427 203h1v1h-1zM474 203h1v2h-1zM522 203h1v1h-1zM168 204h10v1h-10zM228 204h1v2h-1zM258 204h1v1h-1zM317 204h1v2h-1zM381 204h1v2h-1zM428 204h1v1h-1zM523 204h1v1h-1zM563 204h1v2h-1zM601 204h1v2h-1zM77 205h1v1h-1zM105 205h1v1h-1zM178 205h6v1h-6zM259 205h1v2h-1zM356 205h1v2h-1zM429 205h1v1h-1zM473 205h1v1h-1zM524 205h1v1h-1zM78 206h1v2h-1zM104 206h1v2h-1zM184 206h2v1h-2zM227 206h1v1h-1zM316 206h1v2h-1zM380 206h1v2h-1zM430 206h2v1h-2zM472 206h1v2h-1zM525 206h1v1h-1zM562 206h1v2h-1zM602 206h1v2h-1zM186 207h1v1h-1zM226 207h1v2h-1zM260 207h1v2h-1zM357 207h1v2h-1zM432 207h1v1h-1zM526 207h2v1h-2zM79 208h1v1h-1zM103 208h1v1h-1zM187 208h2v1h-2zM315 208h1v2h-1zM379 208h1v1h-1zM433 208h1v1h-1zM471 208h1v1h-1zM528 208h1v1h-1zM561 208h1v2h-1zM603 208h1v2h-1zM80 209h1v2h-1zM102 209h1v2h-1zM189 209h1v1h-1zM225 209h1v1h-1zM261 209h1v1h-1zM358 209h1v2h-1zM378 209h1v2h-1zM434 209h2v1h-2zM470 209h1v2h-1zM529 209h1v1h-1zM190 210h2v1h-2zM224 210h1v2h-1zM262 210h1v2h-1zM314 210h1v2h-1zM436 210h1v1h-1zM530 210h1v1h-1zM560 210h1v2h-1zM604 210h1v2h-1zM81 211h1v1h-1zM101 211h1v1h-1zM192 211h1v1h-1zM359 211h1v2h-1zM377 211h1v2h-1zM437 211h2v1h-2zM469 211h1v1h-1zM531 211h1v1h-1zM82 212h1v2h-1zM100 212h1v2h-1zM193 212h2v1h-2zM223 212h1v1h-1zM263 212h1v2h-1zM313 212h1v2h-1zM439 212h1v1h-1zM468 212h1v2h-1zM532 212h1v1h-1zM559 212h1v2h-1zM605 212h1v2h-1zM195 213h1v1h-1zM222 213h1v2h-1zM360 213h1v3h-1zM376 213h1v2h-1zM440 213h2v1h-2zM533 213h1v1h-1zM83 214h1v1h-1zM99 214h1v1h-1zM196 214h2v1h-2zM264 214h1v2h-1zM312 214h1v2h-1zM442 214h1v1h-1zM467 214h1v1h-1zM534 214h1v1h-1zM558 214h1v2h-1zM606 214h1v2h-1zM84 215h1v2h-1zM98 215h1v2h-1zM198 215h1v1h-1zM221 215h1v2h-1zM375 215h1v1h-1zM443 215h1v1h-1zM466 215h1v2h-1zM535 215h1v1h-1zM199 216h1v1h-1zM265 216h1v1h-1zM311 216h1v2h-1zM361 216h1v2h-1zM374 216h1v2h-1zM444 216h2v1h-2zM536 216h2v1h-2zM557 216h1v2h-1zM607 216h1v2h-1zM85 217h1v1h-1zM97 217h1v1h-1zM200 217h2v1h-2zM220 217h1v1h-1zM266 217h1v2h-1zM446 217h1v1h-1zM465 217h1v1h-1zM538 217h1v1h-1zM86 218h1v2h-1zM96 218h1v2h-1zM202 218h1v1h-1zM219 218h1v2h-1zM310 218h1v2h-1zM362 218h1v2h-1zM373 218h1v2h-1zM447 218h2v1h-2zM464 218h1v2h-1zM539 218h1v1h-1zM556 218h1v2h-1zM608 218h1v2h-1zM203 219h2v1h-2zM267 219h1v2h-1zM449 219h1v1h-1zM540 219h1v1h-1zM87 220h1v1h-1zM95 220h1v1h-1zM205 220h1v1h-1zM218 220h1v1h-1zM309 220h1v2h-1zM363 220h1v2h-1zM372 220h1v2h-1zM450 220h2v1h-2zM463 220h1v1h-1zM541 220h1v1h-1zM555 220h1v2h-1zM609 220h1v2h-1zM88 221h1v2h-1zM94 221h1v2h-1zM206 221h2v1h-2zM217 221h1v2h-1zM268 221h1v1h-1zM452 221h1v1h-1zM462 221h1v2h-1zM542 221h1v1h-1zM208 222h1v1h-1zM269 222h1v2h-1zM308 222h1v2h-1zM364 222h1v2h-1zM371 222h1v1h-1zM453 222h1v1h-1zM543 222h1v1h-1zM554 222h1v2h-1zM610 222h1v2h-1zM89 223h1v1h-1zM93 223h1v1h-1zM209 223h2v1h-2zM216 223h1v1h-1zM370 223h1v2h-1zM454 223h2v1h-2zM461 223h1v1h-1zM544 223h1v1h-1zM90 224h1v2h-1zM92 224h1v2h-1zM211 224h1v1h-1zM215 224h1v2h-1zM270 224h1v2h-1zM307 224h1v2h-1zM365 224h1v2h-1zM456 224h1v1h-1zM460 224h1v2h-1zM545 224h1v1h-1zM553 224h1v2h-1zM611 224h1v2h-1zM212 225h2v1h-2zM369 225h1v2h-1zM457 225h2v1h-2zM546 225h2v1h-2zM91 226h1v1h-1zM214 226h1v1h-1zM271 226h1v2h-1zM306 226h1v1h-1zM366 226h1v2h-1zM459 226h1v1h-1zM548 226h1v1h-1zM552 226h1v2h-1zM612 226h1v2h-1zM304 227h3v1h-3zM368 227h1v1h-1zM549 227h1v1h-1zM272 228h1v1h-1zM299 228h5v1h-5zM367 228h2v1h-2zM550 228h2v1h-2zM613 228h1v2h-1zM273 229h1v2h-1zM294 229h5v1h-5zM367 229h1v1h-1zM551 229h1v1h-1zM288 230h6v1h-6zM274 231h1v2h-1zM283 231h5v1h-5zM278 232h5v1h-5zM275 233h3v1h-3z"/><use href="#pt" x="60" y="180"/><use href="#pt" x="91" y="226"/><use href="#pt" x="122" y="180"/><use href="#pt" x="152" y="202"/><use href="#pt" x="183" y="205"/><use href="#pt" x="214" y="226"/><use href="#pt" x="244" y="180"/><use href="#pt" x="275" y="233"/><use href="#pt" x="306" y="227"/><use href="#pt" x="337" y="165"/><use href="#pt" x="367" y="229"/><use href="#pt" x="398" y="175"/><use href="#pt" x="429" y="205"/><use href="#pt" x="459" y="226"/><use href="#pt" x="490" y="180"/><use href="#pt" x="521" y="202"/><use href="#pt" x="551" y="229"/><use href="#pt" x="582" y="165"/><use href="#pt" x="613" y="229"/><use href="#pt" x="589" y="61"/></g>
<g id="charmm27" fill="#0080ff"><path d="M573 74h33v1h-33zM182 162h2v1h-2zM429 162h1v1h-1zM180 163h2v1h-2zM183 163h1v1h-1zM428 163h2v1h-2zM177 164h3v1h-3zM184 164h1v2h-1zM428 164h1v1h-1zM430 164h1v2h-1zM174 165h3v1h-3zM427 165h1v2h-1zM172 166h2v1h-2zM185 166h1v2h-1zM431 166h1v2h-1zM169 167h3v1h-3zM426 167h1v1h-1zM167 168h2v1h-2zM186 168h1v2h-1zM425 168h1v2h-1zM432 168h1v2h-1zM164 169h3v1h-3zM162 170h2v1h-2zM187 170h1v2h-1zM424 170h1v2h-1zM433 170h1v2h-1zM159 171h3v1h-3zM156 172h3v1h-3zM188 172h1v2h-1zM423 172h1v1h-1zM434 172h1v2h-1zM154 173h2v1h-2zM422 173h1v2h-1zM152 174h2v1h-2zM189 174h1v2h-1zM435 174h1v3h-1zM521 174h1v1h-1zM150 175h2v1h-2zM322 175h16v1h-16zM421 175h1v2h-1zM519 175h2v1h-2zM522 175h1v2h-1zM582 175h1v1h-1zM149 176h1v1h-1zM190 176h1v2h-1zM306 176h16v1h-16zM338 176h1v2h-1zM518 176h1v1h-1zM581 176h1v2h-1zM583 176h1v2h-1zM147 177h2v1h-2zM305 177h1v2h-1zM420 177h1v1h-1zM436 177h1v2h-1zM516 177h2v1h-2zM523 177h1v2h-1zM146 178h1v1h-1zM191 178h1v2h-1zM339 178h1v2h-1zM419 178h1v2h-1zM515 178h1v1h-1zM580 178h1v2h-1zM584 178h1v2h-1zM145 179h1v1h-1zM304 179h1v2h-1zM437 179h1v2h-1zM513 179h2v1h-2zM524 179h1v1h-1zM143 180h2v1h-2zM192 180h1v2h-1zM340 180h1v1h-1zM418 180h1v2h-1zM512 180h1v1h-1zM525 180h1v2h-1zM579 180h1v1h-1zM585 180h1v1h-1zM142 181h1v1h-1zM303 181h1v1h-1zM341 181h1v2h-1zM438 181h1v2h-1zM510 181h2v1h-2zM578 181h1v2h-1zM586 181h1v2h-1zM140 182h2v1h-2zM193 182h1v3h-1zM302 182h1v2h-1zM417 182h1v1h-1zM509 182h1v1h-1zM526 182h1v2h-1zM139 183h1v1h-1zM342 183h1v2h-1zM416 183h1v2h-1zM439 183h1v2h-1zM507 183h2v1h-2zM577 183h1v1h-1zM587 183h1v1h-1zM137 184h2v1h-2zM301 184h1v2h-1zM506 184h1v1h-1zM527 184h1v2h-1zM576 184h1v2h-1zM588 184h1v2h-1zM136 185h1v1h-1zM194 185h1v2h-1zM343 185h1v1h-1zM415 185h1v2h-1zM440 185h1v2h-1zM505 185h1v1h-1zM135 186h1v1h-1zM300 186h1v1h-1zM344 186h1v2h-1zM503 186h2v1h-2zM528 186h1v1h-1zM575 186h1v2h-1zM589 186h1v2h-1zM133 187h2v1h-2zM195 187h1v2h-1zM299 187h1v2h-1zM414 187h1v1h-1zM441 187h1v3h-1zM502 187h1v1h-1zM529 187h1v2h-1zM132 188h1v1h-1zM345 188h1v2h-1zM413 188h1v2h-1zM500 188h2v1h-2zM574 188h1v1h-1zM590 188h1v1h-1zM130 189h2v1h-2zM196 189h1v2h-1zM298 189h1v1h-1zM499 189h1v1h-1zM530 189h1v2h-1zM573 189h1v2h-1zM591 189h1v2h-1zM129 190h1v1h-1zM297 190h1v2h-1zM346 190h1v1h-1zM412 190h1v2h-1zM442 190h1v2h-1zM497 190h2v1h-2zM127 191h2v1h-2zM197 191h1v2h-1zM347 191h1v2h-1zM496 191h1v1h-1zM531 191h1v1h-1zM572 191h1v1h-1zM592 191h1v1h-1zM126 192h1v1h-1zM296 192h1v2h-1zM411 192h1v2h-1zM443 192h1v2h-1zM494 192h2v1h-2zM532 192h1v2h-1zM571 192h1v2h-1zM593 192h1v2h-1zM125 193h1v1h-1zM198 193h1v2h-1zM348 193h1v2h-1zM493 193h1v1h-1zM123 194h2v1h-2zM295 194h1v1h-1zM410 194h1v1h-1zM444 194h1v2h-1zM491 194h2v1h-2zM533 194h1v2h-1zM570 194h1v2h-1zM594 194h1v2h-1zM60 195h1v1h-1zM122 195h1v1h-1zM199 195h1v2h-1zM244 195h1v1h-1zM294 195h1v2h-1zM349 195h1v1h-1zM409 195h1v2h-1zM490 195h1v1h-1zM61 196h1v1h-1zM121 196h1v1h-1zM243 196h1v1h-1zM245 196h1v1h-1zM350 196h1v2h-1zM445 196h1v2h-1zM489 196h1v1h-1zM534 196h1v1h-1zM569 196h1v1h-1zM595 196h1v1h-1zM62 197h1v1h-1zM120 197h1v1h-1zM200 197h1v2h-1zM242 197h1v1h-1zM246 197h1v1h-1zM293 197h1v2h-1zM408 197h1v2h-1zM488 197h1v1h-1zM535 197h1v2h-1zM568 197h1v2h-1zM596 197h1v2h-1zM63 198h1v1h-1zM119 198h1v1h-1zM241 198h1v1h-1zM247 198h1v1h-1zM351 198h1v2h-1zM446 198h1v2h-1zM487 198h1v1h-1zM64 199h1v1h-1zM118 199h1v1h-1zM201 199h1v2h-1zM240 199h1v1h-1zM248 199h1v1h-1zM292 199h1v1h-1zM407 199h1v1h-1zM486 199h1v1h-1zM536 199h1v2h-1zM567 199h1v1h-1zM597 199h1v1h-1zM65 200h1v1h-1zM117 200h1v1h-1zM239 200h1v1h-1zM249 200h1v1h-1zM291 200h1v2h-1zM352 200h1v1h-1zM406 200h1v2h-1zM447 200h1v3h-1zM485 200h1v1h-1zM566 200h1v2h-1zM598 200h1v2h-1zM66 201h1v1h-1zM116 201h1v1h-1zM202 201h1v2h-1zM238 201h1v1h-1zM250 201h1v1h-1zM353 201h1v2h-1zM484 201h1v1h-1zM537 201h1v2h-1zM67 202h1v1h-1zM115 202h1v1h-1zM237 202h1v1h-1zM251 202h1v1h-1zM290 202h1v2h-1zM405 202h1v2h-1zM483 202h1v1h-1zM565 202h1v2h-1zM599 202h1v2h-1zM68 203h1v1h-1zM114 203h1v1h-1zM203 203h1v2h-1zM236 203h1v2h-1zM252 203h1v1h-1zM354 203h1v2h-1zM448 203h1v2h-1zM482 203h1v1h-1zM538 203h1v1h-1zM69 204h1v1h-1zM113 204h1v1h-1zM253 204h1v1h-1zM289 204h1v1h-1zM404 204h1v1h-1zM481 204h1v1h-1zM539 204h1v2h-1zM564 204h1v1h-1zM600 204h1v1h-1zM70 205h1v1h-1zM112 205h1v1h-1zM204 205h1v3h-1zM235 205h1v1h-1zM254 205h1v1h-1zM288 205h1v2h-1zM355 205h1v1h-1zM403 205h1v2h-1zM449 205h1v2h-1zM480 205h1v1h-1zM563 205h1v2h-1zM601 205h1v2h-1zM71 206h1v1h-1zM111 206h1v1h-1zM234 206h1v1h-1zM255 206h1v1h-1zM356 206h1v2h-1zM479 206h1v1h-1zM540 206h1v2h-1zM72 207h1v1h-1zM110 207h1v1h-1zM233 207h1v1h-1zM256 207h1v1h-1zM287 207h1v2h-1zM402 207h1v2h-1zM450 207h1v2h-1zM478 207h1v1h-1zM562 207h1v2h-1zM602 207h1v2h-1zM73 208h1v1h-1zM109 208h1v1h-1zM205 208h1v2h-1zM232 208h1v1h-1zM257 208h1v1h-1zM357 208h1v2h-1zM477 208h1v1h-1zM541 208h1v1h-1zM74 209h1v1h-1zM108 209h1v1h-1zM231 209h1v1h-1zM258 209h1v1h-1zM286 209h1v1h-1zM401 209h1v1h-1zM451 209h1v2h-1zM476 209h1v1h-1zM542 209h1v2h-1zM561 209h1v1h-1zM603 209h1v1h-1zM75 210h1v1h-1zM107 210h1v1h-1zM206 210h1v2h-1zM230 210h1v1h-1zM259 210h1v1h-1zM285 210h1v2h-1zM358 210h1v1h-1zM400 210h1v2h-1zM475 210h1v1h-1zM560 210h1v2h-1zM604 210h1v2h-1zM76 211h1v2h-1zM106 211h1v2h-1zM229 211h1v1h-1zM260 211h1v2h-1zM359 211h1v2h-1zM452 211h1v2h-1zM474 211h1v2h-1zM543 211h1v2h-1zM207 212h1v2h-1zM228 212h1v1h-1zM284 212h1v2h-1zM399 212h1v2h-1zM559 212h1v1h-1zM605 212h1v1h-1zM77 213h1v1h-1zM105 213h1v1h-1zM227 213h1v1h-1zM261 213h1v1h-1zM360 213h1v2h-1zM453 213h1v3h-1zM473 213h1v1h-1zM544 213h1v1h-1zM558 213h1v2h-1zM606 213h1v2h-1zM78 214h1v1h-1zM104 214h1v1h-1zM208 214h1v2h-1zM226 214h1v1h-1zM262 214h1v1h-1zM283 214h1v1h-1zM397 214h2v1h-2zM472 214h1v1h-1zM545 214h1v2h-1zM79 215h1v1h-1zM103 215h1v1h-1zM225 215h1v1h-1zM263 215h1v1h-1zM282 215h1v2h-1zM361 215h1v1h-1zM394 215h3v1h-3zM471 215h1v1h-1zM557 215h1v2h-1zM607 215h1v2h-1zM80 216h1v1h-1zM102 216h1v1h-1zM209 216h1v2h-1zM224 216h1v1h-1zM264 216h1v1h-1zM362 216h1v2h-1zM391 216h3v1h-3zM454 216h1v2h-1zM470 216h1v1h-1zM546 216h1v2h-1zM81 217h1v1h-1zM101 217h1v1h-1zM223 217h1v1h-1zM265 217h1v1h-1zM281 217h1v1h-1zM389 217h2v1h-2zM469 217h1v1h-1zM556 217h1v1h-1zM608 217h1v1h-1zM82 218h1v1h-1zM100 218h1v1h-1zM210 218h1v2h-1zM222 218h1v1h-1zM266 218h1v1h-1zM280 218h1v2h-1zM363 218h1v2h-1zM386 218h3v1h-3zM455 218h1v2h-1zM468 218h1v1h-1zM547 218h1v2h-1zM555 218h1v2h-1zM609 218h1v2h-1zM83 219h1v1h-1zM99 219h1v1h-1zM221 219h1v2h-1zM267 219h1v1h-1zM383 219h3v1h-3zM467 219h1v1h-1zM84 220h1v1h-1zM98 220h1v1h-1zM211 220h1v2h-1zM268 220h1v1h-1zM279 220h1v2h-1zM364 220h1v1h-1zM380 220h3v1h-3zM456 220h1v2h-1zM466 220h1v1h-1zM548 220h1v1h-1zM554 220h1v1h-1zM610 220h1v1h-1zM85 221h1v1h-1zM97 221h1v1h-1zM220 221h1v1h-1zM269 221h1v1h-1zM365 221h1v2h-1zM377 221h3v1h-3zM465 221h1v1h-1zM549 221h1v2h-1zM553 221h1v2h-1zM611 221h1v2h-1zM86 222h1v1h-1zM96 222h1v1h-1zM212 222h1v2h-1zM219 222h1v1h-1zM270 222h1v1h-1zM278 222h1v1h-1zM375 222h2v1h-2zM457 222h1v2h-1zM464 222h1v1h-1zM87 223h1v1h-1zM95 223h1v1h-1zM218 223h1v1h-1zM271 223h1v1h-1zM277 223h1v2h-1zM366 223h1v2h-1zM372 223h3v1h-3zM463 223h1v1h-1zM550 223h1v2h-1zM552 223h1v2h-1zM612 223h1v2h-1zM88 224h1v1h-1zM94 224h1v1h-1zM213 224h1v2h-1zM217 224h1v1h-1zM272 224h1v1h-1zM369 224h3v1h-3zM458 224h1v2h-1zM462 224h1v1h-1zM89 225h1v1h-1zM93 225h1v1h-1zM216 225h1v1h-1zM273 225h1v1h-1zM276 225h1v2h-1zM367 225h2v1h-2zM461 225h1v1h-1zM551 225h1v1h-1zM613 225h1v1h-1zM90 226h1v1h-1zM92 226h1v1h-1zM214 226h2v1h-2zM274 226h1v1h-1zM459 226h2v1h-2zM91 227h1v1h-1zM214 227h1v1h-1zM275 227h1v1h-1zM459 227h1v1h-1z"/><use href="#pt" x="60" y="195"/><use href="#pt" x="91" y="227"/><use href="#pt" x="122" y="195"/><use href="#pt" x="152" y="174"/><use href="#pt" x="183" y="162"/><use href="#pt" x="214" y="227"/><use href="#pt" x="244" y="195"/><use href="#pt" x="275" y="227"/><use href="#pt" x="306" y="176"/><use href="#pt" x="337" y="175"/><use href="#pt" x="367" y="225"/><use href="#pt" x="398" y="214"/><use href="#pt" x="429" y="162"/><use href="#pt" x="459" y="227"/><use href="#pt" x="490" y="195"/><use href="#pt" x="521" y="174"/><use href="#pt" x="551" y="225"/><use href="#pt" x="582" y="175"/><use href="#pt" x="613" y="225"/><use href="#pt" x="589" y="74"/></g>
</svg>
</body>
</html>
